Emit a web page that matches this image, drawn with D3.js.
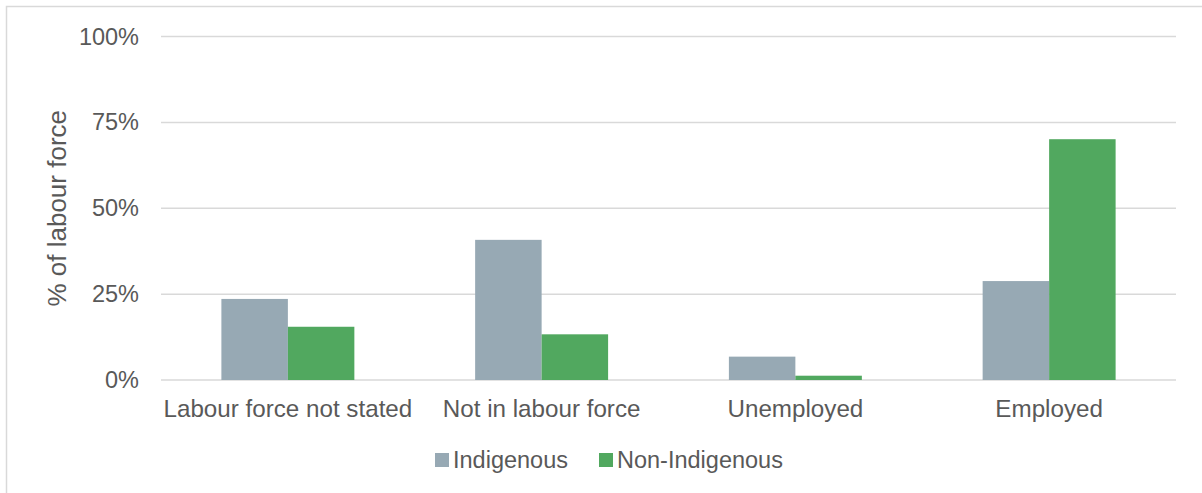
<!DOCTYPE html>
<html>
<head>
<meta charset="utf-8">
<script src="https://cdn.jsdelivr.net/npm/d3@7/dist/d3.min.js"></script>
<style>
  html, body { margin: 0; padding: 0; background: #fff; }
  svg { display: block; }
  text { font-family: "Liberation Sans", Arial, sans-serif; fill: #595959; }
</style>
</head>
<body>
<svg id="chart" width="1202" height="493"></svg>
<script>
// Labour force status by Indigenous status (share of each group)
const categories = ["Labour force not stated", "Not in labour force", "Unemployed", "Employed"];
const seriesNames = ["Indigenous", "Non-Indigenous"];
const indigenous = [0.236, 0.408, 0.068, 0.288];
const nonIndigenous = [0.155, 0.133, 0.0125, 0.701];
const yTicks = [0, 0.25, 0.5, 0.75, 1];
const colours = ["#97a9b4", "#51a85f"];

const svg = d3.select("#chart");
const margin = { left: 161, right: 26, top: 36.5, bottom: 113 };
const W = 1202, H = 493;

// frame around the chart area
svg.append("rect")
  .attr("x", 6.5).attr("y", 6.5)
  .attr("width", 1210).attr("height", 500)
  .attr("fill", "none").attr("stroke", "#d9d9d9").attr("stroke-width", 1.5);

const x0 = d3.scaleBand()
  .domain(categories)
  .range([margin.left, W - margin.right])
  .paddingInner(0).paddingOuter(0);

const groupShare = 0.524;
const x1 = d3.scaleBand()
  .domain(seriesNames)
  .range([0, x0.bandwidth() * groupShare]);

const y = d3.scaleLinear().domain([0, 1]).range([H - margin.bottom, margin.top]);

// gridlines
svg.append("g")
  .selectAll("line")
  .data(yTicks)
  .join("line")
  .attr("x1", margin.left).attr("x2", W - margin.right)
  .attr("y1", d => y(d)).attr("y2", d => y(d))
  .attr("stroke", "#d9d9d9").attr("stroke-width", 1.5);

// y axis tick labels
const yAxis = d3.axisLeft(y).tickValues(yTicks).tickFormat(d3.format(".0%")).tickSize(0).tickPadding(22);
const gy = svg.append("g").attr("transform", `translate(${margin.left},0)`).call(yAxis);
gy.select(".domain").remove();
gy.selectAll("text")
  .attr("font-size", 23.5)
  .attr("fill", "#595959")
  .style("font-family", '"Liberation Sans", Arial, sans-serif');

// x axis category labels
const xAxis = d3.axisBottom(x0).tickSize(0).tickPadding(0);
const gx = svg.append("g").attr("transform", `translate(0,${H - margin.bottom})`).call(xAxis);
gx.select(".domain").remove();
gx.selectAll("text")
  .attr("font-size", 24.2)
  .attr("dy", null)
  .attr("y", 36.5)
  .attr("fill", "#595959")
  .style("font-family", '"Liberation Sans", Arial, sans-serif');

// bars
const rows = categories.map((c, i) => ({
  category: c,
  values: [
    { series: seriesNames[0], value: indigenous[i] },
    { series: seriesNames[1], value: nonIndigenous[i] }
  ]
}));

const offset = x0.bandwidth() * (1 - groupShare) / 2;
svg.append("g")
  .selectAll("g")
  .data(rows)
  .join("g")
  .attr("transform", d => `translate(${x0(d.category) + offset},0)`)
  .selectAll("rect")
  .data(d => d.values)
  .join("rect")
  .attr("x", d => x1(d.series))
  .attr("width", x1.bandwidth())
  .attr("y", d => y(d.value))
  .attr("height", d => y(0) - y(d.value))
  .attr("fill", (d, i) => colours[i]);

// y axis title
svg.append("text")
  .attr("transform", `translate(66,${(y(0) + y(1)) / 2 + 0}) rotate(-90)`)
  .attr("text-anchor", "middle")
  .attr("font-size", 26)
  .text("% of labour force");

// legend
const legendItems = [
  { name: seriesNames[0], colour: colours[0], x: 435 },
  { name: seriesNames[1], colour: colours[1], x: 599 }
];
const lg = svg.append("g").selectAll("g").data(legendItems).join("g")
  .attr("transform", d => `translate(${d.x},453)`);
lg.append("rect").attr("width", 14).attr("height", 14).attr("fill", d => d.colour);
lg.append("text").attr("x", 18).attr("y", 14.5).attr("font-size", 23.5).text(d => d.name);
</script>
</body>
</html>
